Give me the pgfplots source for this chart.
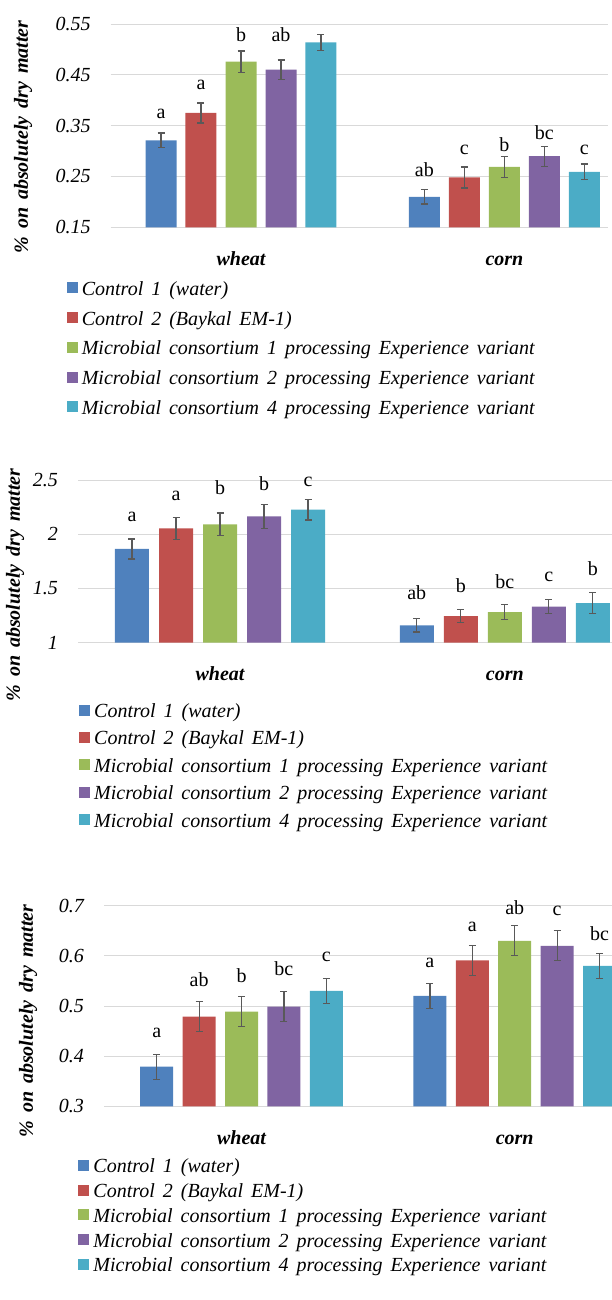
\documentclass[border=0pt]{standalone}
\usepackage{pgfplots}
\pgfplotsset{compat=1.18}
\usepackage{pgfplotstable}
\usepackage{fontspec}
\setmainfont{LiberationSerif}[Extension=.ttf, WordSpace=1.6,
  UprightFont=*-Regular,
  BoldFont=*-Bold,
  ItalicFont=*-Italic,
  BoldItalicFont=*-BoldItalic]
\newcommand\f{\fontsize{20}{24}\selectfont}
\definecolor{c1}{HTML}{4F81BD}
\definecolor{c2}{HTML}{C0504D}
\definecolor{c3}{HTML}{9BBB59}
\definecolor{c4}{HTML}{8064A2}
\definecolor{c5}{HTML}{4BACC6}
\definecolor{errc}{HTML}{595959}
\definecolor{gridc}{HTML}{D9D9D9}
\definecolor{capc}{RGB}{30,110,60}

% g: 0 = wheat, 1 = corn; yN value, eN error, lN letter, tN letter baseline
\pgfplotstableread{
g y1 e1 l1 t1 y2 e2 l2 t2 y3 e3 l3 t3 y4 e4 l4 t4 y5 e5 l5 t5
0 0.321 0.0144 a 0.3631 0.375 0.0197 a 0.4215 0.476 0.021 b 0.5152 0.460 0.019 ab 0.5152 0.514 0.0154 a 0.5545
1 0.210 0.0141 ab 0.2496 0.248 0.0207 c 0.2923 0.269 0.021 b 0.2988 0.290 0.0197 bc 0.3231 0.259 0.0157 c 0.2923
}\tabA
\pgfplotstableread{
g y1 e1 l1 t1 y2 e2 l2 t2 y3 e3 l3 t3 y4 e4 l4 t4 y5 e5 l5 t5
0 1.864 0.092 a 2.1155 2.055 0.103 a 2.3156 2.092 0.104 b 2.3709 2.165 0.109 b 2.4078 2.226 0.095 c 2.4446
1 1.160 0.061 ab 1.4001 1.246 0.061 b 1.4610 1.283 0.069 bc 1.5015 1.332 0.066 c 1.5624 1.366 0.097 b 1.6241
}\tabB
\pgfplotstableread{
g y1 e1 l1 t1 y2 e2 l2 t2 y3 e3 l3 t3 y4 e4 l4 t4 y5 e5 l5 t5
0 0.379 0.025 a 0.4376 0.479 0.030 ab 0.5385 0.489 0.030 b 0.5465 0.499 0.030 bc 0.5618 0.530 0.025 c 0.5883
1 0.520 0.025 a 0.5772 0.591 0.030 a 0.6476 0.630 0.030 ab 0.6821 0.620 0.030 c 0.6809 0.580 0.025 bc 0.6316
}\tabC

% #1 table, #2 series index, #3 colour, #4 offset (axis units), #5 bar width
\newcommand\series[5]{%
  \addplot[ybar, bar width=#5, bar shift=0pt, fill=#3, draw=none,
    error bars/.cd, y dir=both, y explicit]
    table[x expr=\thisrow{g}+#4, y=y#2, y error=e#2] {#1};
}
\newcommand\labs[3]{%
  \addplot[draw=none, mark=none, forget plot, nodes near coords,
    point meta=explicit symbolic,
    nodes near coords style={font=\f, anchor=base, inner sep=0pt}]
    table[x expr=\thisrow{g}+#3, y=t#2, meta=l#2] {#1};
}

\pgfplotsset{
  panel/.style={
    scale only axis, anchor=south west,
    axis line style={draw=none},
    major tick length=0pt,
    ymajorgrids, grid style={gridc, line width=1pt},
    xtick={0,1}, xticklabels={wheat,corn},
    xticklabel style={font=\f\bfseries\itshape, anchor=base, yshift=-38pt},
    /pgf/number format/assume math mode=true,
    ylabel={\% on absolutely dry matter},
    legend cell align=left,
    legend image code/.code={\fill[##1] (0pt,-3pt) rectangle (11pt,8pt);},
    error bars/error bar style={errc, line width=1.2pt},
    error bars/error mark options={errc, rotate=90, mark size=3.5pt, line width=1.2pt},
  },
  leg/.style 2 args={legend style={at={(axis description cs:#1)}, anchor=north west,
    draw=none, fill=none, inner sep=0pt, row sep=#2, font=\f\itshape,
    nodes={inner sep=0pt, text height=15pt, text depth=5pt},
    /tikz/every odd column/.append style={column sep=4pt}}},
}

\begin{document}
\begin{tikzpicture}[x=1pt,y=1pt]
% ---------------- a)
\begin{axis}[panel, at={(110.7pt,-227.3pt)}, width=497pt, height=203.3pt,
  xmin=-0.4947, xmax=1.3922, ymin=0.15, ymax=0.55,
  ytick={0.15,0.25,0.35,0.45,0.55},
  yticklabel style={font=\f\itshape, anchor=east, inner sep=0pt, xshift=-20pt,
    /pgf/number format/.cd, fixed, fixed zerofill, precision=2},
  every axis y label/.style={at={(axis description cs:-0.1765,0.444)}, rotate=90, anchor=center, font=\f\bfseries\itshape},
  leg={-0.0887,-0.2592}{9.8pt},
]
\series{\tabA}{1}{c1}{-0.3037}{31pt}
\series{\tabA}{2}{c2}{-0.1519}{31pt}
\series{\tabA}{3}{c3}{0}{31pt}
\series{\tabA}{4}{c4}{0.1519}{31pt}
\series{\tabA}{5}{c5}{0.3037}{31pt}
\labs{\tabA}{1}{-0.3037}
\labs{\tabA}{2}{-0.1519}
\labs{\tabA}{3}{0}
\labs{\tabA}{4}{0.1519}
\labs{\tabA}{5}{0.3037}
\legend{Control 1 (water),Control 2 (Baykal EM-1),Microbial consortium 1 processing Experience variant,Microbial consortium 2 processing Experience variant,Microbial consortium 4 processing Experience variant}
\node[font=\f\itshape, text=capc] at (axis description cs:0.4231,-1.0217) {a)};
\end{axis}
% ---------------- b)
\begin{axis}[panel, at={(78pt,-642.7pt)}, width=552pt, height=162.7pt,
  xmin=-0.4986, xmax=1.4396, ymin=1, ymax=2.5,
  ytick={1,1.5,2,2.5},
  yticklabel style={font=\f\itshape, anchor=east, inner sep=0pt, xshift=-20pt,
    /pgf/number format/.cd, fixed, precision=1},
  every axis y label/.style={at={(axis description cs:-0.1141,0.3546)}, rotate=90, anchor=center, font=\f\bfseries\itshape},
  leg={0.0018,-0.3663}{7.4pt},
]
\series{\tabB}{1}{c1}{-0.309}{34pt}
\series{\tabB}{2}{c2}{-0.1545}{34pt}
\series{\tabB}{3}{c3}{0}{34pt}
\series{\tabB}{4}{c4}{0.1545}{34pt}
\series{\tabB}{5}{c5}{0.309}{34pt}
\labs{\tabB}{1}{-0.309}
\labs{\tabB}{2}{-0.1545}
\labs{\tabB}{3}{0}
\labs{\tabB}{4}{0.1545}
\labs{\tabB}{5}{0.309}
\legend{Control 1 (water),Control 2 (Baykal EM-1),Microbial consortium 1 processing Experience variant,Microbial consortium 2 processing Experience variant,Microbial consortium 4 processing Experience variant}
\node[font=\f\itshape, text=capc] at (axis description cs:0.4384,-1.2846) {b)};
\end{axis}
% ---------------- c)
\begin{axis}[panel, at={(104pt,-1106.3pt)}, width=526pt, height=200.6pt,
  xmin=-0.5033, xmax=1.422, ymin=0.3, ymax=0.7,
  ytick={0.3,0.4,0.5,0.6,0.7},
  yticklabel style={font=\f\itshape, anchor=east, inner sep=0pt, xshift=-20pt,
    /pgf/number format/.cd, fixed, fixed zerofill, precision=1},
  every axis y label/.style={at={(axis description cs:-0.1445,0.4252)}, rotate=90, anchor=center, font=\f\bfseries\itshape},
  leg={-0.0489,-0.2562}{4.75pt},
]
\series{\tabC}{1}{c1}{-0.3104}{33pt}
\series{\tabC}{2}{c2}{-0.1552}{33pt}
\series{\tabC}{3}{c3}{0}{33pt}
\series{\tabC}{4}{c4}{0.1552}{33pt}
\series{\tabC}{5}{c5}{0.3104}{33pt}
\labs{\tabC}{1}{-0.3104}
\labs{\tabC}{2}{-0.1552}
\labs{\tabC}{3}{0}
\labs{\tabC}{4}{0.1552}
\labs{\tabC}{5}{0.3104}
\legend{Control 1 (water),Control 2 (Baykal EM-1),Microbial consortium 1 processing Experience variant,Microbial consortium 2 processing Experience variant,Microbial consortium 4 processing Experience variant}
\node[font=\f\itshape, text=capc] at (axis description cs:0.4125,-0.9242) {c)};
\end{axis}
\pgfresetboundingbox
\useasboundingbox (0,0) rectangle (611,-1300);
\end{tikzpicture}
\end{document}
